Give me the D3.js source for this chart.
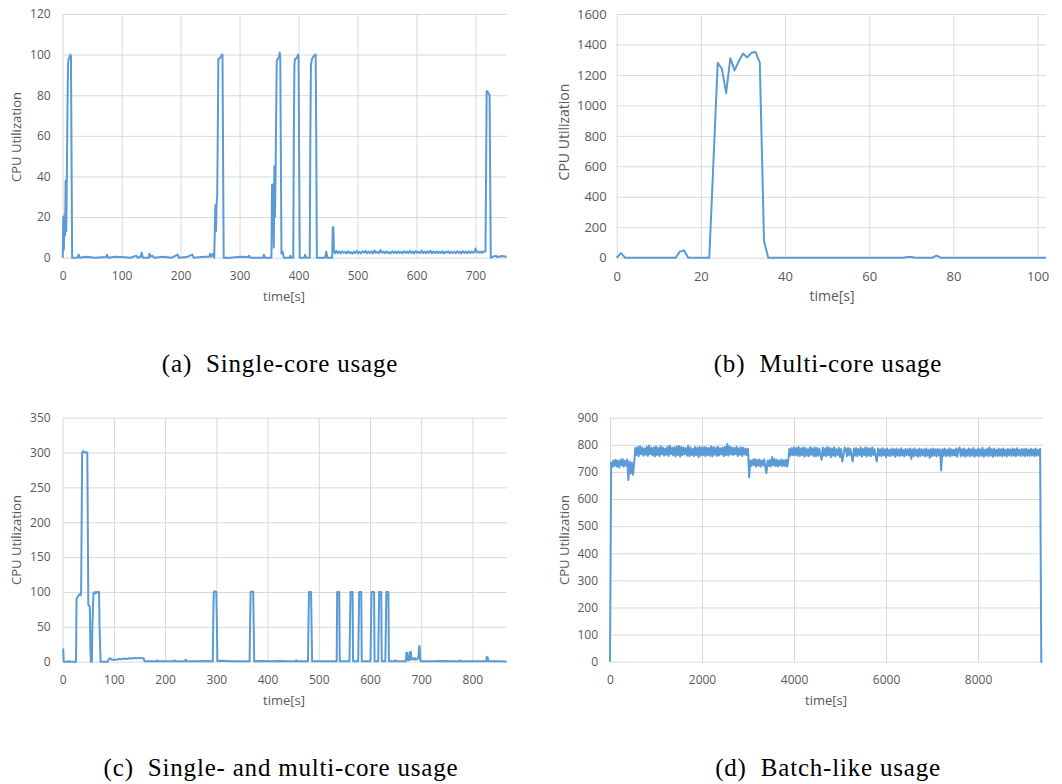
<!DOCTYPE html>
<html lang="en">
<head>
	<meta charset="UTF-8">
	<title>CPU usage patterns</title>
	<script type="text/javascript" src="https://d3js.org/d3.v7.min.js"></script>
	<style>
		body { margin: 0; background: #fff; }
		.axis text { font-family: "Open Sans", sans-serif; fill: #595959; }
		.axis line { stroke: #d9d9d9; }
		.axis path { display: none; }
		.title { font-family: "Open Sans", sans-serif; fill: #595959; }
		.caption { font-family: "Liberation Serif", serif; fill: #000; white-space: pre; }
	</style>
</head>
<body>
	<svg width="1062" height="784"></svg>

	<script type="text/javascript">
		// (a) single-core usage, [time s, utilization]
		var singleData = [
			[0,0],[1,20],[2,4],[3,21],[4,11],[5,38],[6,13],[7,39],[8,70],[9,95],[10,98],[11,98],[12,99],[13,100],[14,99],[15,50],[16,0],
			[25,0],[27,1.5],[29,0],[40,0.5],[55,0],[74,0.3],[75,1.5],[77,0],[90,0.5],[100,0.3],[115,0],[125,1],[127,0],[132,0.5],[134,2.5],[136,0],
			[146,0],[147,2],[149,0.5],[152,1],[155,0],[170,0.5],[185,0],[195,1.5],[197,0],[210,0.3],[220,1.5],[222,0],[240,0.5],[249,0.5],[250,2],[252,0.5],[255,2],[257,0],
			[258,14],[259,26],[260,13],[261,26],[262,30],[263,60],[264,98],[266,98],[268,99],[270,100],[271,100],[272,50],[273,0],
			[285,0],[300,0.5],[315,0.3],[316,1],[318,0],[340,0],[341,1.5],[343,0],
			[354,0],[355,36],[356,20],[357,36],[358,5],[359,45],[360,20],[361,40],[362,70],[363,97],[365,98],[367,99],[368,101],[369,98],[370,50],[371,2],[373,3],[375,0],[385,0],[386,1],[388,0],
			[391,0],[392,60],[393,95],[394,98],[396,98],[398,99],[399,100],[400,99],[401,50],[402,0],[410,0],[411,1.5],[413,0],
			[419,0],[420,60],[421,95],[423,98],[425,99],[428,100],[429,100],[430,60],[431,0],
			[445,0],[447,3],[449,0],[457,0],[458,15],[459,15],[460,3],[462,2.2],[464,3.4],[466,2.4],[469,3],[471,2.1],[474,3.1],[476,2.4],[479,2.9],[481,2.1],
			[484,3.2],[486,2.3],[489,2.8],[491,2],[494,3],[496,2.3],[499,3.3],[501,2.2],[504,2.9],[506,2.1],[509,3.2],[511,2.5],[514,3.4],[516,2.2],[519,3],
			[521,2.3],[524,3.1],[526,2.1],[529,3.5],[531,2.4],[534,2.9],[536,2.2],[539,3.8],[541,2.5],[544,3],[546,2.2],[549,3.1],[551,2.3],[554,2.8],[556,2.1],
			[559,3.2],[561,2.4],[564,3],[566,2.2],[569,3.1],[571,2.3],[574,2.9],[576,2.1],[579,3.2],[581,2.4],[584,3],[586,2.2],[589,3.4],[591,2.3],[594,3],
			[596,2.1],[599,3.3],[601,2.4],[604,2.9],[606,2.2],[609,3.5],[611,2.3],[614,3],[616,2.2],[619,3.1],[621,2.4],[624,3.4],[626,2.2],[629,3],[631,2.3],
			[634,3.1],[636,2.2],[639,2.9],[641,2.3],[644,3.2],[646,2.1],[649,3],[651,2.4],[654,3.1],[656,2.2],[659,3],[661,2.3],[664,2.9],[666,2.2],[669,3.1],
			[671,2.3],[674,3],[676,2.1],[679,3.2],[681,2.4],[684,3],[686,2.2],[689,3.1],[691,2.3],[694,3],[696,2.4],[699,3.2],[700,4.5],[702,2.6],[705,3.1],
			[707,2.4],[710,3],[712,2.5],[715,3],[717,3],
			[718,40],[719,82],[720,82],[722,81],[724,80],[725,40],[726,0],[730,0.5],[735,1],[737,0.3],[745,0.8],[753,0.5]
		];

		// (b) multi-core usage
		var multiData = [
			[0,0],[1,30],[2,0],[14,0],[15,40],[16,48],[17,0],[22,0],[24,1280],[25,1240],[26,1080],[27,1310],[28,1230],[29,1290],
			[30,1340],[31,1315],[32,1345],[33,1350],[34,1280],[35,110],[36,0],[68,0],[69,5],[70,5],[71,0],[75,0],[76,14],[77,0],[102,0]
		];

		// (c) single- and multi-core usage
		var mixData = [
			[0,18],[1,18],[2,0],[10,0],[12,1],[14,0],[26,0],[27,90],[29,93],[31,95],[33,97],[35,95],[36,100],[37,200],[38,300],[40,302],[44,300],[48,300],
			[49,200],[50,82],[52,80],[53,78],[54,20],[55,0],[57,0],[58,50],[60,98],[62,100],[64,98],[66,100],[68,100],[70,98],[71,100],[72,50],[74,0],
			[88,0],[90,4],[93,5],[95,3],[98,3],[100,2.5],[105,3],[110,4],[115,3.5],[120,4.5],[125,4],[130,5],[135,4.5],[140,5.5],[145,5],[150,5.5],[155,5],[158,5],
			[160,0.5],[170,0.5],[184,0.5],[185,2],[187,0.5],[200,0.5],[216,0.5],[218,2],[220,0.5],[238,0.5],[240,3],[242,0.5],[260,0.5],[280,1],
			[293,0.5],[294,60],[295,100],[297,101],[300,100],[301,60],[302,1],[310,1.5],[330,0.5],[350,0.8],
			[365,0.5],[366,60],[367,100],[369,101],[372,100],[373,50],[374,0.5],[390,1],[410,0.5],[420,1],[440,0.5],[455,0.5],[456,2],[458,0.5],
			[479,0.5],[480,60],[481,100],[485,100],[486,50],[487,0.5],[500,0.5],[520,0.5],
			[535,0.5],[536,100],[540,100],[541,0.5],[560,0.5],[562,100],[566,100],[567,0.5],
			[577,0.5],[579,100],[583,100],[584,0.5],[601,0.5],[603,100],[608,100],[609,0.5],
			[616,0.5],[618,100],[622,100],[623,0.5],[630,0.5],[632,100],[636,100],[637,0.5],
			[648,0.5],[650,2],[652,0.5],[670,0.5],[671,13],[672,5],[673,13],[674,2],[677,2],[678,14],[679,5],[680,14],[681,3],[684,5],[686,3],[688,5],
			[690,3],[693,4],[695,8],[696,22],[697,22],[698,2],[700,0.5],[720,0.5],[740,1],[760,0.5],[774,0.5],[775,2],[777,0.5],[800,0.5],
			[827,0.5],[828,7],[830,6],[831,0.5],[850,0.5],[867,0.3]
		];

		// (d) batch-like usage, one sample every 25 s from t = 0
		var batchStep = 25;
		var batchValues = [
			0,735,718,742,722,745,720,740,716,744,724,748,719,741,723,746,670,738,695,735,
			690,732,788,762,792,758,795,765,790,760,786,763,793,759,797,766,789,761,791,757,
			794,762,788,758,795,765,790,760,786,763,793,759,797,766,789,761,791,757,794,762,
			796,756,792,762,790,765,788,760,797,758,790,762,785,758,792,762,789,755,792,760,
			790,762,792,758,790,762,788,760,795,757,791,763,789,759,793,761,787,764,790,758,
			792,762,803,760,795,765,790,762,788,765,793,759,787,763,791,758,789,764,786,762,
			785,680,742,722,745,725,748,720,744,723,746,719,741,724,747,721,695,742,722,744,
			720,755,725,748,722,745,720,742,724,746,721,743,722,745,720,742,785,760,788,762,
			790,762,788,760,792,758,786,762,790,756,788,760,784,758,791,763,787,759,790,757,
			788,760,786,762,745,790,760,786,758,792,762,788,755,786,760,791,757,784,762,789,
			755,785,738,760,790,786,758,788,762,785,760,738,786,760,788,758,785,762,790,756,
			785,762,790,756,788,760,786,758,790,762,784,757,738,786,760,784,758,787,761,784,
			755,786,760,782,758,786,762,784,756,786,760,783,759,787,761,782,757,785,762,784,
			760,786,748,784,758,786,760,782,756,786,759,784,761,783,757,786,760,782,752,784,
			758,786,760,784,757,785,761,783,705,784,760,786,758,782,760,786,757,784,761,782,
			760,786,756,784,790,758,784,760,786,756,782,760,786,758,784,760,788,756,782,760,
			786,758,784,760,788,756,782,760,786,758,790,760,784,756,786,760,782,758,786,760,
			784,758,786,760,782,757,785,761,783,759,786,760,784,758,787,761,782,759,785,760,
			784,758,786,760,782,759,785,761,783,758,786,760,782,761,785,0,0
		];
		var batchData = batchValues.map(function(v, i) { return [i * batchStep, v]; });

		var singleXTicks = [0,100,200,300,400,500,600,700];
		var singleYTicks = [0,20,40,60,80,100,120];
		var multiXTicks = [0,20,40,60,80,100];
		var multiYTicks = [0,200,400,600,800,1000,1200,1400,1600];
		var mixXTicks = [0,100,200,300,400,500,600,700,800];
		var mixYTicks = [0,50,100,150,200,250,300,350];
		var batchXTicks = [0,2000,4000,6000,8000];
		var batchYTicks = [0,100,200,300,400,500,600,700,800,900];

		var captions = ["(a)  Single-core usage", "(b)  Multi-core usage", "(c)  Single- and multi-core usage", "(d)  Batch-like usage"];

		var svg = d3.select("svg");
		svg.append("rect").attr("width", 1062).attr("height", 784).attr("fill", "#fff");

		function drawPanel(p) {
			var g = svg.append("g");
			var x = d3.scaleLinear().domain([0, p.xMax]).range([p.left, p.right]);
			var y = d3.scaleLinear().domain([0, p.yMax]).range([p.bottom, p.top]);
			var fmt = d3.format("d");

			g.append("g")
				.attr("class", "axis")
				.attr("transform", "translate(" + p.left + ",0)")
				.call(d3.axisLeft(y).tickValues(p.yTicks).tickFormat(fmt)
					.tickSize(-(p.right - p.left)).tickPadding(p.padY))
				.selectAll("text").style("font-size", p.font + "px");

			g.append("g")
				.attr("class", "axis")
				.attr("transform", "translate(0," + p.bottom + ")")
				.call(d3.axisBottom(x).tickValues(p.xTicks).tickFormat(fmt)
					.tickSize(-(p.bottom - p.top)).tickPadding(14))
				.selectAll("text").style("font-size", p.font + "px");

			var line = d3.line()
				.x(function(d) { return x(d[0]); })
				.y(function(d) { return y(d[1]); });

			g.append("path")
				.datum(p.data)
				.attr("fill", "none")
				.attr("stroke", "#5b9bd5")
				.attr("stroke-width", 2)
				.attr("stroke-linejoin", "round")
				.attr("d", line);

			g.append("text")
				.attr("class", "title")
				.attr("transform", "translate(" + p.ytx + "," + p.yty + ") rotate(-90)")
				.attr("text-anchor", "middle")
				.attr("dy", "0.35em")
				.style("font-size", (p.font + 1) + "px")
				.text("CPU Utilization");

			g.append("text")
				.attr("class", "title")
				.attr("x", p.xtx)
				.attr("y", p.bottom + 43)
				.attr("text-anchor", "middle")
				.style("font-size", (p.font + 1) + "px")
				.text("time[s]");

			// subfigure caption, centred under the panel
			g.append("text")
				.attr("class", "caption")
				.attr("x", p.capX)
				.attr("y", p.bottom + 114)
				.attr("text-anchor", "middle")
				.style("font-size", "25px")
				.style("letter-spacing", "0.8px")
				.text(p.caption);
		}

		drawPanel({data: singleData, left: 62.7, right: 506.7, top: 14, bottom: 257.7, xMax: 753, yMax: 120,
			xTicks: singleXTicks, yTicks: singleYTicks, font: 12, padY: 12, ytx: 16, yty: 137, xtx: 284, capX: 280, caption: captions[0]});
		drawPanel({data: multiData, left: 616.7, right: 1046, top: 14, bottom: 257.7, xMax: 102, yMax: 1600,
			xTicks: multiXTicks, yTicks: multiYTicks, font: 13, padY: 10, ytx: 564, yty: 132, xtx: 832, capX: 828, caption: captions[1]});
		drawPanel({data: mixData, left: 62.7, right: 506.7, top: 417.7, bottom: 661.7, xMax: 867, yMax: 350,
			xTicks: mixXTicks, yTicks: mixYTicks, font: 12, padY: 12, ytx: 16, yty: 540, xtx: 284, capX: 281, caption: captions[2]});
		drawPanel({data: batchData, left: 610, right: 1042.7, top: 417.7, bottom: 661.7, xMax: 9406, yMax: 900,
			xTicks: batchXTicks, yTicks: batchYTicks, font: 12, padY: 12, ytx: 564, yty: 540, xtx: 826, capX: 828, caption: captions[3]});
	</script>
</body>
</html>
